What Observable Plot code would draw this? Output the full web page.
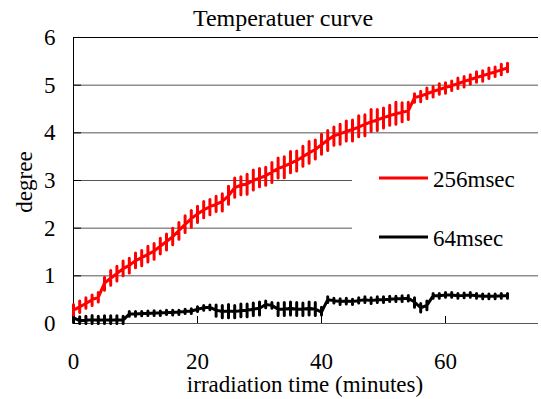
<!DOCTYPE html>
<html>
<head>
<meta charset="utf-8">
<script src="https://cdn.jsdelivr.net/npm/d3@7"></script>
<script src="https://cdn.jsdelivr.net/npm/@observablehq/plot@0.6"></script>
<style>
body { margin: 0; font-family: 'Liberation Serif'; }
#chart { position: relative; width: 541px; height: 399px; }
#chart > svg { position: absolute; left: 0; top: 0; }
</style>
</head>
<body>
<div id="chart"></div>
<script>
// ---- data ----
const title = "Temperatuer curve";
const xLabel = "irradiation time (minutes)";
const yLabel = "degree";
const seriesNames = ["256msec", "64msec"];
const seriesColors = ["#ff0000", "#000000"];
const xTicks = [0, 20, 40, 60];
const yTicks = [0, 1, 2, 3, 4, 5, 6];
const gridY = [1, 2, 3, 4, 5];

const minutes = [
  0, 1, 2, 3, 4, 5, 6, 7, 8, 9,
  10, 11, 12, 13, 14, 15, 16, 17, 18, 19,
  20, 21, 22, 23, 24, 25, 26, 27, 28, 29,
  30, 31, 32, 33, 34, 35, 36, 37, 38, 39,
  40, 41, 42, 43, 44, 45, 46, 47, 48, 49,
  50, 51, 52, 53, 54, 55, 56, 57, 58, 59,
  60, 61, 62, 63, 64, 65, 66, 67, 68, 69, 70
];

// 256msec: level at each minute, plus how far each reading spike goes up / down
const redBase = [
  0.28, 0.35, 0.42, 0.5, 0.55, 0.85, 0.95, 1.05, 1.15, 1.22,
  1.32, 1.38, 1.45, 1.52, 1.62, 1.72, 1.82, 1.95, 2.08, 2.2,
  2.3, 2.38, 2.45, 2.5, 2.56, 2.68, 2.85, 2.9, 2.93, 3.0,
  3.05, 3.1, 3.18, 3.25, 3.3, 3.36, 3.42, 3.5, 3.58, 3.65,
  3.75, 3.85, 3.94, 3.98, 4.03, 4.07, 4.12, 4.18, 4.23, 4.27,
  4.32, 4.36, 4.4, 4.43, 4.46, 4.74, 4.77, 4.82, 4.87, 4.91,
  4.95, 4.99, 5.03, 5.08, 5.12, 5.16, 5.2, 5.24, 5.28, 5.32, 5.36
];
const redUp = [
  0.12, 0.12, 0.12, 0.1, 0.1, 0.12, 0.16, 0.15, 0.16, 0.15,
  0.16, 0.15, 0.17, 0.16, 0.17, 0.16, 0.18, 0.17, 0.18, 0.17,
  0.16, 0.18, 0.15, 0.17, 0.16, 0.2, 0.2, 0.18, 0.2, 0.22,
  0.2, 0.18, 0.2, 0.22, 0.2, 0.25, 0.2, 0.22, 0.24, 0.2,
  0.22, 0.2, 0.18, 0.2, 0.22, 0.2, 0.24, 0.2, 0.26, 0.22,
  0.2, 0.22, 0.24, 0.2, 0.18, 0.08, 0.1, 0.12, 0.1, 0.12,
  0.1, 0.1, 0.12, 0.1, 0.1, 0.12, 0.1, 0.12, 0.1, 0.12, 0.1
];
const redDown = [
  0.1, 0.12, 0.1, 0.12, 0.1, 0.15, 0.15, 0.16, 0.15, 0.16,
  0.15, 0.17, 0.16, 0.17, 0.16, 0.18, 0.17, 0.18, 0.17, 0.18,
  0.18, 0.16, 0.17, 0.15, 0.2, 0.18, 0.2, 0.2, 0.22, 0.2,
  0.18, 0.2, 0.22, 0.2, 0.24, 0.2, 0.22, 0.2, 0.22, 0.2,
  0.2, 0.22, 0.2, 0.22, 0.2, 0.24, 0.2, 0.24, 0.2, 0.22,
  0.22, 0.2, 0.22, 0.2, 0.18, 0.1, 0.12, 0.1, 0.12, 0.1,
  0.12, 0.1, 0.1, 0.12, 0.1, 0.1, 0.12, 0.1, 0.1, 0.1, 0.08
];

// 64msec
const blackBase = [
  0.12, 0.06, 0.07, 0.08, 0.07, 0.08, 0.07, 0.08, 0.07, 0.2,
  0.2, 0.21, 0.21, 0.22, 0.22, 0.23, 0.23, 0.24, 0.25, 0.26,
  0.3, 0.33, 0.34, 0.28, 0.25, 0.26, 0.25, 0.27, 0.28, 0.3,
  0.32, 0.4, 0.38, 0.3, 0.3, 0.32, 0.3, 0.3, 0.32, 0.3,
  0.24, 0.5, 0.48, 0.46, 0.47, 0.46, 0.48, 0.5, 0.48, 0.5,
  0.5, 0.51, 0.52, 0.52, 0.53, 0.45, 0.33, 0.38, 0.58, 0.58,
  0.6, 0.6, 0.58, 0.59, 0.6, 0.58, 0.57, 0.57, 0.57, 0.58, 0.58
];
const blackUp = [
  0.1, 0.08, 0.08, 0.09, 0.08, 0.08, 0.09, 0.08, 0.08, 0.05,
  0.05, 0.04, 0.05, 0.05, 0.04, 0.05, 0.05, 0.04, 0.05, 0.05,
  0.05, 0.05, 0.05, 0.11, 0.13, 0.14, 0.13, 0.14, 0.13, 0.13,
  0.13, 0.07, 0.06, 0.13, 0.14, 0.13, 0.14, 0.13, 0.13, 0.14,
  0.1, 0.06, 0.05, 0.06, 0.06, 0.05, 0.06, 0.06, 0.06, 0.06,
  0.06, 0.06, 0.05, 0.06, 0.06, 0.09, 0.09, 0.09, 0.05, 0.05,
  0.05, 0.05, 0.05, 0.05, 0.05, 0.05, 0.05, 0.05, 0.05, 0.05, 0.05
];
const blackDown = [
  0.1, 0.06, 0.07, 0.08, 0.07, 0.08, 0.07, 0.08, 0.07, 0.05,
  0.05, 0.05, 0.04, 0.05, 0.05, 0.04, 0.05, 0.05, 0.04, 0.05,
  0.05, 0.05, 0.05, 0.13, 0.13, 0.14, 0.13, 0.13, 0.14, 0.13,
  0.14, 0.07, 0.06, 0.13, 0.13, 0.14, 0.13, 0.13, 0.14, 0.13,
  0.06, 0.06, 0.05, 0.06, 0.06, 0.06, 0.05, 0.06, 0.06, 0.06,
  0.06, 0.05, 0.06, 0.06, 0.06, 0.11, 0.09, 0.09, 0.05, 0.05,
  0.05, 0.05, 0.05, 0.05, 0.05, 0.05, 0.05, 0.05, 0.05, 0.05, 0.05
];

// ---- build the line table: each minute draws a vertical reading spike ----
const rows = [];
function addSeries(name, base, up, down) {
  minutes.forEach((t, i) => {
    rows.push({series: name, t, v: base[i]});
    rows.push({series: name, t, v: base[i] + up[i]});
    rows.push({series: name, t, v: base[i] - down[i]});
    rows.push({series: name, t, v: base[i]});
  });
}
addSeries(seriesNames[1], blackBase, blackUp, blackDown);
addSeries(seriesNames[0], redBase, redUp, redDown);

const FONT = '"Liberation Serif", serif';

const plot = Plot.plot({
  width: 541,
  height: 399,
  marginLeft: 73,
  marginRight: 3,
  marginTop: 37,
  marginBottom: 76,
  style: {fontFamily: FONT, fontSize: "23px"},
  x: {domain: [0, 75]},
  y: {domain: [0, 6]},
  color: {domain: seriesNames, range: seriesColors},
  marks: [
    Plot.ruleY(gridY, {y: d => d, stroke: "#555", strokeWidth: 1}),
    Plot.ruleY([0], {stroke: "#555", strokeWidth: 1}),
    Plot.ruleY([6], {stroke: "#000", strokeWidth: 1}),
    Plot.ruleX([0], {stroke: "#000", strokeWidth: 1}),
    Plot.ruleY(yTicks, {y: d => d, x1: 0, x2: 0, insetRight: -8, stroke: "#000"}),
    Plot.ruleX(xTicks, {x: d => d, y1: 0, y2: 0, insetTop: -7, stroke: "#000"}),
    Plot.axisX(xTicks, {tickSize: 0, tickPadding: 29, label: null}),
    Plot.axisY(yTicks, {tickSize: 0, tickPadding: 18, label: null}),
    Plot.line(rows, {x: "t", y: "v", z: "series", stroke: "series", strokeWidth: 3, strokeLinejoin: "round"})
  ]
});

const chart = document.getElementById("chart");
chart.appendChild(plot);

// ---- title, axis titles and legend (text and swatches on top of the plot) ----
const NS = "http://www.w3.org/2000/svg";
const ov = document.createElementNS(NS, "svg");
ov.setAttribute("width", 541);
ov.setAttribute("height", 399);
function el(tag, attrs, text) {
  const e = document.createElementNS(NS, tag);
  for (const k in attrs) e.setAttribute(k, attrs[k]);
  if (text != null) {
    e.setAttribute("font-family", FONT);
    e.textContent = text;
  }
  ov.appendChild(e);
  return e;
}
el("text", {x: 283, y: 26, "text-anchor": "middle", "font-size": 24}, title);
el("text", {x: 305, y: 392, "text-anchor": "middle", "font-size": 23}, xLabel);
el("text", {transform: "translate(32,182) rotate(-90)", "text-anchor": "middle", "font-size": 23}, yLabel);
el("rect", {x: 352, y: 150, width: 189, height: 110, fill: "#fff"});
const legendY = [178, 237];
seriesNames.forEach((name, i) => {
  el("line", {x1: 379, x2: 428, y1: legendY[i], y2: legendY[i], stroke: seriesColors[i], "stroke-width": 3});
  el("text", {x: 433, y: legendY[i] + 9, "font-size": 23}, name);
});
chart.appendChild(ov);
</script>
</body>
</html>
